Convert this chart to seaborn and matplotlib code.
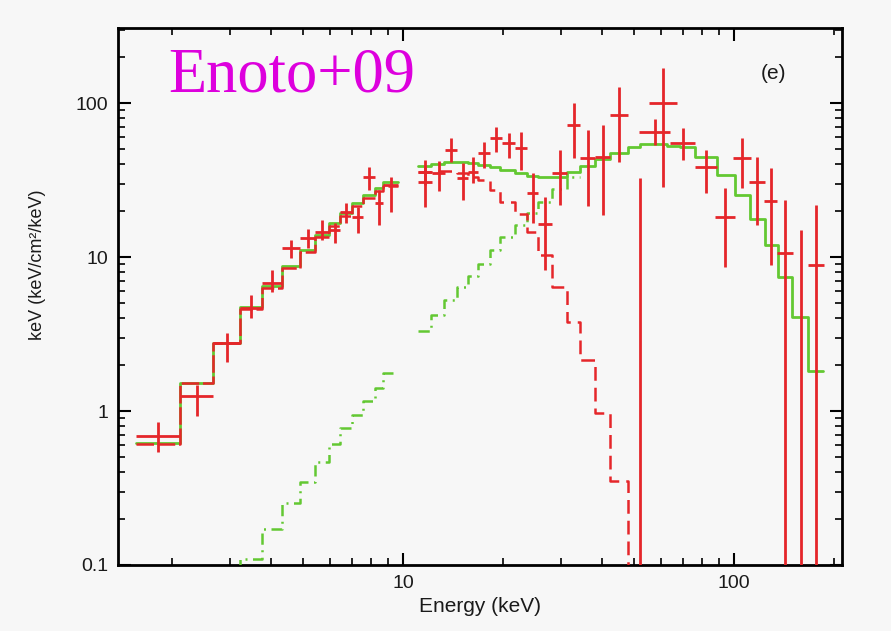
import numpy as np
import pandas as pd
import matplotlib
matplotlib.use("Agg")
import matplotlib.pyplot as plt
import seaborn as sns

# ---- Suzaku XIS band: model bins (keV) and model levels (keV^2 flux units)
xis_edges = [1.561, 2.120, 2.667, 3.218, 3.750, 4.309, 4.885, 5.422, 5.975,
             6.452, 7.015, 7.572, 8.230, 8.701, 9.658]
xis_total = [0.62, 1.52, 2.77, 4.73, 6.48, 8.74, 11.1, 13.9, 16.6, 19.3,
             22.4, 25.3, 28.1, 30.7]
xis_soft = [0.61, 1.51, 2.75, 4.62, 6.31, 8.49, 10.75, 13.4, 16.0, 18.5,
            21.5, 24.1, 26.7, 28.9]
xis_hard = [0.03, 0.05, 0.07, 0.109, 0.171, 0.253, 0.346, 0.467, 0.611,
            0.776, 0.942, 1.16, 1.41, 1.77]

# ---- HXD (PIN + GSO) band: model bins and levels
hxd_edges = [11.10, 12.15, 13.30, 14.56, 15.72, 16.85, 18.31, 19.64, 21.80,
             23.69, 25.58, 28.19, 31.30, 34.25, 38.03, 42.22, 47.84, 52.00,
             62.75, 68.70, 76.24, 88.83, 100.7, 111.8, 124.1, 135.9, 149.7,
             167.3, 185.7]
hxd_total = [39.0, 40.2, 41.4, 41.4, 40.8, 39.6, 38.4, 36.7, 35.1, 33.6,
             33.1, 33.1, 35.6, 39.0, 43.3, 47.4, 51.8, 54.2, 52.6, 51.8,
             44.6, 34.1, 25.3, 17.7, 11.97, 7.41, 4.08, 1.82]
pin_soft = [35.7, 36.0, 36.1, 35.0, 33.3, 31.6, 27.2, 22.75, 19.0, 14.5,
            10.3, 6.38, 3.78, 2.14, 0.97, 0.351, 0.02]
pin_hard = [3.31, 4.20, 5.26, 6.38, 7.53, 9.01, 11.10, 13.49, 16.14, 19.31,
            22.75, 27.65, 33.06]

# ---- Observed spectrum: bin low/high edge, flux, lower and upper error bound
obs_lo = [1.561, 2.120, 2.667, 3.218, 3.750, 4.309, 4.885, 5.422, 5.975,
          6.452, 7.015, 7.572, 8.230, 8.701,
          11.10, 11.10, 12.24, 13.39, 14.56, 15.72, 16.85, 18.31, 19.91,
          21.80, 23.69, 25.58, 28.19, 31.30, 34.25, 38.03, 42.22,
          50.0, 55.36, 51.64, 64.07, 76.24, 87.6, 99.3, 111.0, 123.2,
          134.9, 150.8, 167.3]
obs_hi = [2.120, 2.667, 3.218, 3.750, 4.309, 4.885, 5.422, 5.975, 6.452,
          7.015, 7.572, 8.230, 8.701, 9.658,
          12.24, 12.24, 13.39, 14.56, 15.72, 16.85, 18.31, 19.91, 21.80,
          23.69, 25.58, 28.19, 31.30, 34.25, 38.03, 42.22, 47.84,
          54.0, 67.28, 64.07, 76.24, 88.83, 100.7, 112.6, 124.1, 134.9,
          150.8, 167.3, 187.0]
obs_flux = [0.689, 1.25, 2.77, 4.67, 6.78, 11.4, 13.3, 14.5, 15.0,
            19.6, 18.2, 33.1, 22.4, 29.4,
            30.7, 35.6, 35.1, 49.5, 32.6, 35.6, 47.4, 59.3, 55.0,
            51.0, 26.0, 16.4, 35.1, 71.9, 43.9, 44.6, 83.6,
            0.03, 100.0, 64.8, 55.0, 38.4, 18.2, 43.9, 30.7, 23.1,
            10.6, 0.03, 8.87]
obs_low = [0.542, 0.929, 2.08, 4.02, 5.93, 9.86, 11.4, 12.9, 12.3,
           16.6, 14.3, 27.2, 16.1, 19.6,
           21.1, 29.4, 26.8, 41.4, 23.4, 30.3, 37.8, 48.0, 43.9,
           36.7, 16.6, 8.24, 21.8, 43.9, 21.4, 18.7, 41.4,
           0.01, 28.5, 53.4, 42.6, 26.0, 8.61, 28.1, 16.1, 8.87,
           0.01, 0.01, 0.01]
obs_high = [0.849, 1.475, 3.21, 5.66, 8.24, 12.9, 15.2, 17.4, 16.6,
            22.4, 21.1, 38.4, 27.2, 33.1,
            39.6, 42.6, 42.0, 59.3, 40.8, 44.6, 55.8, 69.8, 63.8,
            64.8, 35.1, 24.5, 49.5, 100.0, 66.8, 71.9, 127.0,
            32.6, 169.0, 78.7, 68.8, 49.5, 28.1, 59.3, 44.6, 37.8,
            23.4, 15.0, 21.8]

RED = "#e5262a"
GREEN = "#63c832"
BG = "#f7f7f7"
INK = "#1a1a1a"

sns.set_theme(style="ticks")
plt.rcParams["font.family"] = ["Liberation Sans", "DejaVu Sans"]

fig = plt.figure(figsize=(8.91, 6.31), dpi=100, facecolor=BG)
ax = fig.add_axes([0.1324, 0.1046, 0.8126, 0.851])
ax.set_facecolor(BG)
ax.set_xscale("log")
ax.set_yscale("log")


def step(edges, vals, **kw):
    """Histogram-style model curve over contiguous energy bins."""
    df = pd.DataFrame({"E": edges, "F": list(vals) + [vals[-1]]})
    sns.lineplot(data=df, x="E", y="F", ax=ax, estimator=None, sort=False,
                 drawstyle="steps-post", **kw)


# total model
step(xis_edges, xis_total, color=GREEN, lw=2.0, zorder=3)
step(hxd_edges, hxd_total, color=GREEN, lw=2.0, zorder=3)

# soft (red dashed) component
step(xis_edges, xis_soft, color=RED, lw=1.8, linestyle=(0, (7, 1.5)), zorder=4)
step(hxd_edges[:len(pin_soft) + 1], pin_soft, color=RED, lw=1.8,
     linestyle=(0, (5.5, 2.8)), zorder=4)

# hard (green dash-dot) component
dashdot = (0, (4.5, 2.2, 0.8, 2.2))
step(xis_edges, xis_hard, color=GREEN, lw=1.8, linestyle=dashdot, zorder=3)
step(hxd_edges[:len(pin_hard) + 1], pin_hard, color=GREEN, lw=1.8,
     linestyle=dashdot, zorder=3)

# data crosses
lo = np.array(obs_lo)
hi = np.array(obs_hi)
fx = np.array(obs_flux)
xc = np.sqrt(lo * hi)
ax.errorbar(xc, fx,
            xerr=[xc - lo, hi - xc],
            yerr=[fx - np.array(obs_low), np.array(obs_high) - fx],
            fmt="none", ecolor=RED, elinewidth=2.0, capsize=0, zorder=5)

ax.set_xlim(1.377, 211.8)
ax.set_ylim(0.1, 307)

ax.set_xticks([10, 100])
ax.set_xticklabels(["10", "100"])
ax.set_yticks([0.1, 1, 10, 100])
ax.set_yticklabels(["0.1", "1", "10", "100"])

ax.tick_params(which="both", direction="in", top=True, right=True,
               color="black", labelsize=14, labelcolor=INK)
ax.tick_params(which="major", length=9, width=1.5, pad=7)
ax.tick_params(which="minor", length=5, width=1.2)
for s in ax.spines.values():
    s.set_linewidth(2.0)
    s.set_color("black")

ax.set_xlabel("Energy (keV)", fontsize=15, color=INK, labelpad=4)
ax.set_ylabel("keV (keV/cm\u00b2/keV)", fontsize=13, color=INK)
ax.yaxis.set_label_coords(-0.10, 0.56)

ax.text(0.905, 0.915, "(e)", transform=ax.transAxes, fontsize=15,
        color=INK, ha="center", va="center")
fig.text(168 / 891, 1 - 92 / 631, "Enoto+09", fontsize=45,
         family=["Liberation Serif", "DejaVu Serif"], color="#dd00dd",
         va="baseline", ha="left")

fig.savefig("out.png", dpi=100, facecolor=BG)
